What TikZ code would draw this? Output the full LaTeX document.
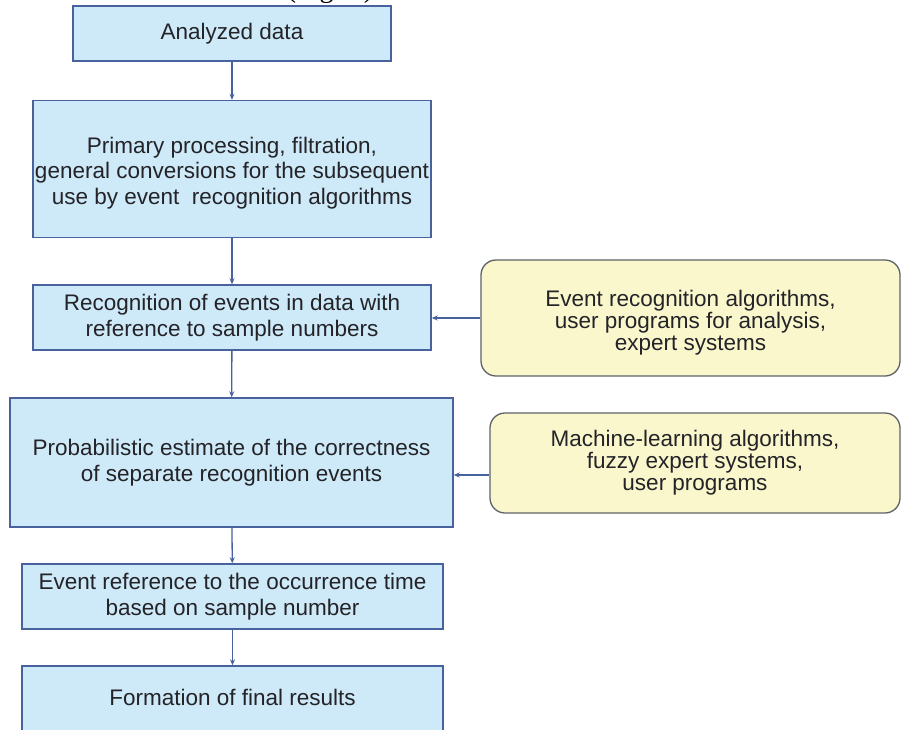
\documentclass[tikz,border=0pt]{standalone}
\usepackage{fontspec}
\setmainfont{Liberation Sans}
\newfontfamily\capfont{Liberation Serif}
\usetikzlibrary{arrows.meta}
\definecolor{stepfill}{RGB}{206,233,248}
\definecolor{stepline}{RGB}{72,98,158}
\definecolor{toolfill}{RGB}{250,247,205}
\definecolor{toolline}{RGB}{95,98,104}
\definecolor{txt}{RGB}{35,35,40}
\begin{document}
\begin{tikzpicture}[x=1pt,y=-1pt,
		stepbox/.style={draw=stepline,fill=stepfill,line width=1.4pt,inner sep=0pt,align=center,text=txt,
			font=\fontsize{22.5}{25.5}\selectfont},
		toolbox/.style={draw=toolline,fill=toolfill,line width=1.3pt,rounded corners=15pt,inner sep=0pt,align=center,text=txt,
			font=\fontsize{22.5}{22}\selectfont},
		link/.style={draw=stepline,line width=1.3pt,-{Stealth[length=6pt,width=5pt]}}]
	\useasboundingbox[fill=white] (0,0) rectangle (902,729);
	\node[anchor=base,font=\capfont\fontsize{28}{30}\selectfont] (cap) at (330,-3) {(Fig. 3)};
	% main chain
	\node[stepbox,minimum width=318pt,minimum height=55pt] (data) at (232,33.5) {Analyzed data};
	\node[stepbox,minimum width=398pt,minimum height=137pt] (prep) at (232,169) {\rule{0pt}{24pt}Primary processing, filtration,\\general conversions for the subsequent\\use by event\ \ recognition algorithms};
	\node[stepbox,minimum width=398pt,minimum height=65pt] (recog) at (232,317.5) {Recognition of events in data with\\reference to sample numbers};
	\node[stepbox,minimum width=443pt,minimum height=129pt] (prob) at (231.5,462.5) {Probabilistic estimate of the correctness\\of separate recognition events};
	\node[stepbox,minimum width=421pt,minimum height=65pt] (time) at (232.5,596.5) {Event reference to the occurrence time\\based on sample number};
	\node[stepbox,minimum width=421pt,minimum height=70pt,text depth=8pt] (final) at (232.5,701) {Formation of final results};
	% side inputs
	\node[toolbox,minimum width=419pt,minimum height=116pt] (algo) at (690.5,318) {\rule{0pt}{26pt}Event recognition algorithms,\\user programs for analysis,\\expert systems};
	\node[toolbox,minimum width=410pt,minimum height=100pt] (ml) at (695,463) {Machine-learning algorithms,\\fuzzy expert systems,\\user programs};
	\draw[link] (data) -- (prep);
	\draw[link] (prep) -- (recog);
	\draw[link] (recog) -- (prob);
	\draw[link] (prob) -- (time);
	\draw[link] (time) -- (final);
	\draw[link] (algo.west) -- (recog.east |- algo.west);
	\coordinate (mlout) at ([yshift=-12pt]ml.west);
	\draw[link] (mlout) -- (prob.east |- mlout);
\end{tikzpicture}
\end{document}
